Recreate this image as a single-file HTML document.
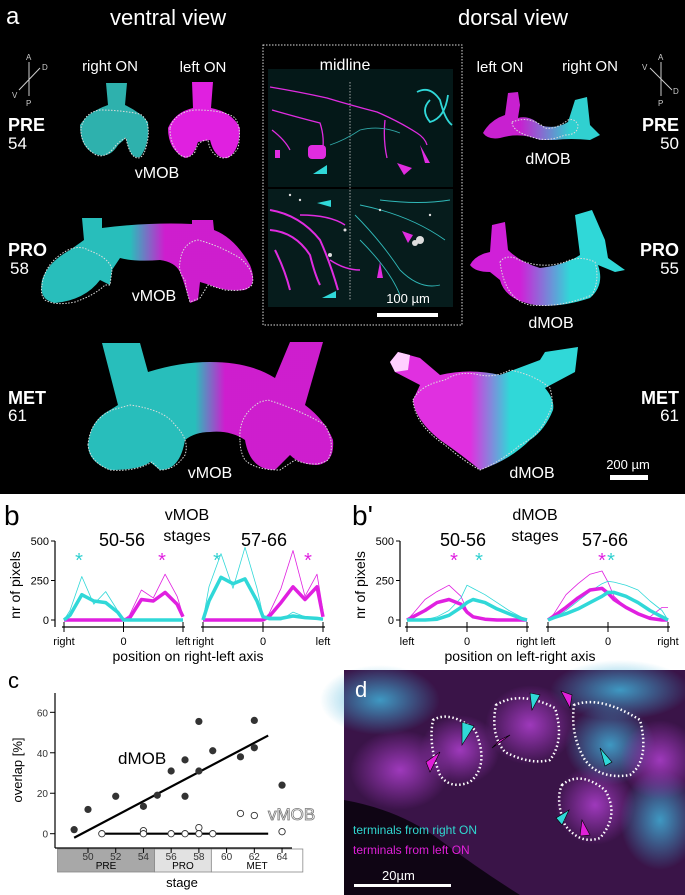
<!DOCTYPE html>
<html><head><meta charset="utf-8"><style>
html,body{margin:0;padding:0;background:#fff}
svg{display:block}
text{font-family:"Liberation Sans",Arial,sans-serif}
</style></head><body>
<svg id="fig" width="685" height="895" viewBox="0 0 685 895" xmlns="http://www.w3.org/2000/svg">
<defs>
<linearGradient id="gcm" gradientUnits="userSpaceOnUse" x1="130" x2="165"><stop offset="0" stop-color="#2ccfcb"/><stop offset="1" stop-color="#e020e0"/></linearGradient>
<linearGradient id="gcm2" gradientUnits="userSpaceOnUse" x1="195" x2="225"><stop offset="0" stop-color="#2ccfcb"/><stop offset="1" stop-color="#e020e0"/></linearGradient>
<linearGradient id="gmcP" gradientUnits="userSpaceOnUse" x1="520" x2="570"><stop offset="0" stop-color="#c820d0"/><stop offset="1" stop-color="#30d0d0"/></linearGradient>
<linearGradient id="gmcPro" gradientUnits="userSpaceOnUse" x1="520" x2="570"><stop offset="0" stop-color="#d020d8"/><stop offset="1" stop-color="#30d8d8"/></linearGradient>
<linearGradient id="gmcE" gradientUnits="userSpaceOnUse" x1="470" x2="510"><stop offset="0" stop-color="#e030e0"/><stop offset="1" stop-color="#30d8d8"/></linearGradient>
<radialGradient id="dblob1" cx="0.5" cy="0.5" r="0.5"><stop offset="0" stop-color="#b040d0"/><stop offset="1" stop-color="#b040d0" stop-opacity="0"/></radialGradient>
<radialGradient id="dblob2" cx="0.5" cy="0.5" r="0.5"><stop offset="0" stop-color="#40b0d8"/><stop offset="1" stop-color="#40b0d8" stop-opacity="0"/></radialGradient>
</defs>

<!-- PANEL A -->
<g>
<rect x="0" y="0" width="685" height="494" fill="#000"/>
<text x="6" y="24" font-size="24" fill="#fff">a</text>
<text x="110" y="25" font-size="22" fill="#fff">ventral view</text>
<text x="458" y="25" font-size="22" fill="#fff">dorsal view</text>
<g fill="#fff" font-size="15" text-anchor="middle">
<text x="110" y="71">right ON</text><text x="203" y="72">left ON</text>
<text x="500" y="72">left ON</text><text x="590" y="71">right ON</text>
</g>
<g fill="#fff">
<text x="8" y="131" font-size="18" font-weight="bold">PRE</text><text x="8" y="149" font-size="17">54</text>
<text x="8" y="256" font-size="18" font-weight="bold">PRO</text><text x="10" y="274" font-size="17">58</text>
<text x="8" y="404" font-size="18" font-weight="bold">MET</text><text x="8" y="421" font-size="17">61</text>
<text x="679" y="131" font-size="18" font-weight="bold" text-anchor="end">PRE</text><text x="679" y="149" font-size="17" text-anchor="end">50</text>
<text x="679" y="256" font-size="18" font-weight="bold" text-anchor="end">PRO</text><text x="679" y="274" font-size="17" text-anchor="end">55</text>
<text x="679" y="404" font-size="18" font-weight="bold" text-anchor="end">MET</text><text x="679" y="421" font-size="17" text-anchor="end">61</text>
</g>
<!-- compasses -->
<g stroke="#ccc" stroke-width="1" fill="#ccc" font-size="8">
<line x1="29" y1="62" x2="29" y2="96"/><line x1="19" y1="90" x2="40" y2="68"/>
<text x="26" y="60" stroke="none">A</text><text x="42" y="70" stroke="none">D</text><text x="12" y="98" stroke="none">V</text><text x="26" y="106" stroke="none">P</text>
<line x1="661" y1="62" x2="661" y2="96"/><line x1="650" y1="68" x2="672" y2="90"/>
<text x="658" y="60" stroke="none">A</text><text x="642" y="70" stroke="none">V</text><text x="673" y="94" stroke="none">D</text><text x="658" y="106" stroke="none">P</text>
</g>
<!-- ventral PRE -->
<path d="M106 83 L127 83 L125 105 Q140 112 148 122 Q150 145 140 157 Q130 160 126 138 L118 145 Q110 158 98 155 Q80 150 80 125 Q88 112 108 105Z" fill="#33c4c0" opacity="0.9"/>
<path d="M192 82 L213 82 L211 108 Q232 112 240 128 Q240 150 228 158 Q215 160 210 140 L198 142 Q193 158 185 158 Q168 150 168 128 Q175 112 193 108Z" fill="#e020e0"/>
<path d="M81 128 Q85 112 100 110 Q120 110 140 114 Q150 120 148 138 Q145 158 138 158 Q130 158 126 138 Q120 140 112 150 Q104 158 96 155 Q80 145 81 128Z" fill="none" stroke="#ddd" stroke-width="1" stroke-dasharray="1.5,1.5"/>
<path d="M170 128 Q175 112 195 110 Q225 110 235 118 Q242 128 238 148 Q232 158 222 158 Q210 155 208 140 Q198 140 195 152 Q188 160 180 155 Q170 145 170 128Z" fill="none" stroke="#ddd" stroke-width="1" stroke-dasharray="1.5,1.5"/>
<text x="157" y="178" font-size="16" fill="#fff" text-anchor="middle">vMOB</text>
<!-- ventral PRO -->
<path d="M82 218 L102 218 L102 228 Q150 222 192 224 L192 220 L213 220 L214 230 Q235 238 250 265 Q258 285 245 290 Q225 292 210 285 L200 282 L198 300 L190 303 Q185 285 180 272 Q175 262 160 260 Q135 262 120 258 L112 270 L110 285 L100 280 Q85 300 55 303 Q38 300 42 280 Q48 262 70 250 L84 240Z" fill="url(#gcm)" opacity="0.92"/>
<path d="M42 285 Q45 262 68 250 Q80 245 88 250 Q110 258 112 270 L110 285 L105 285 Q95 295 75 302 Q55 306 45 300 Q40 295 42 285Z" fill="none" stroke="#ddd" stroke-width="1" stroke-dasharray="1.5,1.5"/>
<path d="M180 262 Q182 243 198 240 Q218 245 240 258 Q256 272 252 285 Q245 292 225 290 L208 285 L200 298 L190 302 Q186 290 185 280 Q178 272 180 262Z" fill="none" stroke="#ddd" stroke-width="1" stroke-dasharray="1.5,1.5"/>
<text x="154" y="301" font-size="16" fill="#fff" text-anchor="middle">vMOB</text>
<!-- ventral MET -->
<path d="M102 343 L140 343 L148 372 Q180 362 210 362 Q250 362 275 378 L290 342 L323 342 L305 405 Q325 420 333 440 Q335 462 318 465 Q300 465 290 455 L275 470 Q250 470 245 440 Q230 430 210 432 Q195 432 185 440 Q180 470 160 470 L150 462 Q140 470 110 470 Q88 462 88 445 Q90 420 110 410 L118 405Z" fill="url(#gcm2)" opacity="0.92"/>
<path d="M88 445 Q90 420 112 410 L130 405 Q165 410 175 425 Q190 440 185 455 Q175 470 160 470 L152 462 Q135 472 110 470 Q90 462 88 445Z" fill="none" stroke="#ddd" stroke-width="1" stroke-dasharray="1.5,1.5"/>
<path d="M240 440 Q238 415 260 402 L268 400 Q300 410 325 425 Q336 445 328 460 Q315 468 295 460 L280 470 Q255 470 245 460 Q240 452 240 440Z" fill="none" stroke="#ddd" stroke-width="1" stroke-dasharray="1.5,1.5"/>
<text x="210" y="478" font-size="16" fill="#fff" text-anchor="middle">vMOB</text>
<!-- midline box -->
<g>
<rect x="263" y="45" width="199" height="280" fill="none" stroke="#ddd" stroke-width="1" stroke-dasharray="1.5,1.5"/>
<rect x="268" y="69" width="185" height="118" fill="#041818"/>
<rect x="268" y="189" width="185" height="118" fill="#061c1c"/>
<line x1="350" y1="82" x2="350" y2="300" stroke="#ccc" stroke-width="0.8" stroke-dasharray="1.5,1.5"/>
<g fill="none" stroke-width="1.3">
<path d="M270 87 Q300 92 327 98 Q350 105 377 112 Q400 122 417 133 Q425 138 427 145" stroke="#e02ce0"/>
<path d="M272 110 Q300 118 320 123 Q324 135 323 147" stroke="#e02ce0"/>
<path d="M272 130 Q285 140 290 150" stroke="#e02ce0"/>
<path d="M385 120 Q383 140 387 158" stroke="#e02ce0"/>
<path d="M417 92 Q430 85 440 100 Q445 120 452 125 M430 100 Q420 110 430 122 Q445 118 448 95" stroke="#30d8d8" stroke-width="1.8"/>
<path d="M330 145 Q345 140 360 130 Q380 125 400 133" stroke="#30a8a8" stroke-width="0.8"/>
<path d="M270 210 Q300 215 320 240 Q330 262 338 290" stroke="#e02ce0" stroke-width="2"/>
<path d="M270 230 Q295 232 310 255 Q315 275 320 285" stroke="#e02ce0" stroke-width="2"/>
<path d="M275 250 Q285 270 290 290" stroke="#e02ce0" stroke-width="2"/>
<path d="M300 215 Q330 215 345 225 M330 260 Q345 270 360 270" stroke="#e02ce0" stroke-width="1.5"/>
<path d="M355 215 Q380 240 400 270 Q420 290 440 285 M360 240 Q390 270 400 295 M380 200 Q420 205 450 200 M360 205 Q410 215 445 240" stroke="#30b8b8" stroke-width="0.9"/>
</g>
<g fill="#e02ce0"><rect x="308" y="145" width="18" height="14" rx="4"/><rect x="275" y="150" width="5" height="8"/></g>
<g fill="#ddd"><circle cx="420" cy="240" r="4"/><circle cx="415" cy="243" r="3"/><circle cx="330" cy="255" r="2"/><circle cx="300" cy="200" r="1.2"/><circle cx="380" cy="210" r="1.2"/><circle cx="430" cy="215" r="1.2"/><circle cx="290" cy="195" r="1.2"/><circle cx="345" cy="230" r="1.5"/></g>
<polygon points="420,145 425,163 430,163" fill="#e02ce0"/><polygon points="397,163 404,175 412,168" fill="#e02ce0"/>
<polygon points="313,174 327,165 327,174" fill="#30d8d8"/><polygon points="317,203 331,200 331,207" fill="#30d8d8"/>
<polygon points="322,298 336,291 336,298" fill="#30d8d8"/><polygon points="402,231 413,235 408,243" fill="#e02ce0"/>
<polygon points="380,262 377,278 383,278" fill="#e02ce0"/>
<text x="345" y="70" font-size="16" fill="#fff" text-anchor="middle">midline</text>
<text x="408" y="303" font-size="13" fill="#fff" text-anchor="middle">100 µm</text>
<rect x="377" y="313" width="61" height="4" fill="#fff"/>
</g>
<!-- dorsal PRE -->
<path d="M483 133 Q490 120 505 115 L508 93 L518 92 L520 105 L518 118 Q530 115 540 125 Q555 130 568 122 L575 100 L587 97 L590 125 L600 135 L590 140 Q570 138 555 140 L540 140 Q520 132 500 138 Q488 140 483 133Z" fill="url(#gmcP)"/>
<path d="M512 122 Q530 115 545 128 Q555 130 568 120 Q575 118 578 125 Q578 135 565 135 Q548 142 535 138 Q512 132 512 122Z" fill="none" stroke="#ddd" stroke-width="1" stroke-dasharray="1.5,1.5"/>
<text x="548" y="164" font-size="16" fill="#fff" text-anchor="middle">dMOB</text>
<!-- dorsal PRO -->
<path d="M470 265 Q475 255 490 252 L492 225 L505 222 L508 250 Q520 262 540 268 Q565 265 580 255 L575 215 L592 210 L605 240 L608 258 L625 270 L615 272 L598 265 Q605 285 590 298 Q560 308 535 305 Q505 300 500 280 L490 272 Q475 272 470 265Z" fill="url(#gmcPro)"/>
<path d="M500 262 Q505 255 515 258 Q540 270 565 262 Q580 255 595 262 Q600 280 592 295 Q560 308 530 305 Q505 300 500 262Z" fill="none" stroke="#ddd" stroke-width="1" stroke-dasharray="1.5,1.5"/>
<text x="551" y="328" font-size="16" fill="#fff" text-anchor="middle">dMOB</text>
<!-- dorsal MET -->
<path d="M390 362 L398 352 L420 358 L440 375 Q470 368 500 375 L540 360 L545 352 L578 347 L575 372 L545 388 Q555 400 553 410 Q545 430 530 440 Q510 460 480 470 Q462 455 440 440 Q415 420 413 400 L420 385 L395 372Z" fill="url(#gmcE)"/>
<path d="M390 362 L398 352 L410 355 L408 370 L395 372Z" fill="#ffd0ff"/>
<path d="M413 400 Q420 385 445 380 Q460 370 480 375 Q495 378 510 370 Q535 375 550 388 Q555 405 548 415 Q540 435 520 445 Q500 462 480 470 Q465 462 445 445 Q415 425 413 400Z" fill="none" stroke="#ddd" stroke-width="1" stroke-dasharray="1.5,1.5"/>
<text x="532" y="478" font-size="16" fill="#fff" text-anchor="middle">dMOB</text>
<text x="628" y="469" font-size="13" fill="#fff" text-anchor="middle">200 µm</text>
<rect x="610" y="475" width="38" height="5" fill="#fff"/>
</g>

<!-- PANEL B / B' -->
<g id="panelB">
<text x="4" y="525" font-size="28" fill="#000">b</text>
<text x="352" y="525" font-size="28" fill="#000">b'</text>
<text x="187" y="520" font-size="16" text-anchor="middle">vMOB</text>
<text x="187" y="541" font-size="16" text-anchor="middle">stages</text>
<text x="122" y="546" font-size="18" text-anchor="middle">50-56</text>
<text x="264" y="546" font-size="18" text-anchor="middle">57-66</text>
<text x="535" y="520" font-size="16" text-anchor="middle">dMOB</text>
<text x="535" y="541" font-size="16" text-anchor="middle">stages</text>
<text x="463" y="546" font-size="18" text-anchor="middle">50-56</text>
<text x="605" y="546" font-size="18" text-anchor="middle">57-66</text>
<text x="188" y="661" font-size="14" text-anchor="middle">position on right-left axis</text>
<text x="520" y="661" font-size="14" text-anchor="middle">position on left-right axis</text>
</g>

<!-- PANEL C -->
<g id="panelC">
<text x="8" y="688" font-size="22" fill="#000">c</text>
<text x="22" y="770" font-size="13" text-anchor="middle" transform="rotate(-90 22 770)">overlap [%]</text>
<text x="182" y="887" font-size="13" text-anchor="middle">stage</text>
</g>

<!-- PANEL D -->
<g>
<rect x="344" y="670" width="341" height="225" fill="#3a1448"/>
<g opacity="0.85">
<ellipse cx="380" cy="700" rx="60" ry="35" fill="url(#dblob2)"/>
<ellipse cx="620" cy="690" rx="70" ry="30" fill="url(#dblob2)"/>
<ellipse cx="460" cy="750" rx="40" ry="35" fill="url(#dblob1)"/>
<ellipse cx="530" cy="725" rx="45" ry="40" fill="url(#dblob1)"/>
<ellipse cx="610" cy="745" rx="45" ry="40" fill="url(#dblob2)"/>
<ellipse cx="595" cy="805" rx="40" ry="40" fill="url(#dblob1)"/>
<ellipse cx="660" cy="820" rx="40" ry="50" fill="url(#dblob2)"/>
<ellipse cx="400" cy="770" rx="50" ry="40" fill="url(#dblob1)"/>
<ellipse cx="660" cy="760" rx="40" ry="40" fill="url(#dblob1)"/>
</g>
<path d="M344 800 Q400 810 440 840 Q480 870 520 895 L344 895Z" fill="#08020c" opacity="0.85"/>
<g fill="none" stroke="#fff" stroke-width="2.5" stroke-dasharray="1.5,2.5">
<path d="M433 720 Q450 710 475 730 Q490 765 470 782 Q450 790 440 775 Q428 745 433 720Z"/>
<path d="M496 705 Q520 690 555 708 Q565 740 550 760 Q530 765 505 752 Q490 735 496 705Z"/>
<path d="M574 705 Q600 695 640 720 Q650 760 630 775 Q600 780 585 760 Q570 735 574 705Z"/>
<path d="M562 785 Q580 770 605 790 Q620 815 600 838 Q580 845 565 825 Q555 800 562 785Z"/>
</g>
<g>
<polygon points="462,722 474,726 462,745" fill="#30d8d8" stroke="#000" stroke-width="0.6"/>
<polygon points="426,762 440,752 430,772" fill="#e020d8" stroke="#000" stroke-width="0.6"/>
<polygon points="530,693 540,695 532,710" fill="#30d8d8" stroke="#000" stroke-width="0.6"/>
<polygon points="500,740 510,735 492,748" fill="#e020d8" stroke="#000" stroke-width="0.6"/>
<polygon points="561,691 572,695 570,708" fill="#e020d8" stroke="#000" stroke-width="0.6"/>
<polygon points="600,748 612,762 605,766" fill="#30d8d8" stroke="#000" stroke-width="0.6"/>
<polygon points="556,818 569,810 562,825" fill="#30d8d8" stroke="#000" stroke-width="0.6"/>
<polygon points="582,820 590,835 580,836" fill="#e020d8" stroke="#000" stroke-width="0.6"/>
</g>
<text x="355" y="697" font-size="22" fill="#fff">d</text>
<text x="353" y="834" font-size="12" fill="#30d8d0">terminals from right ON</text>
<text x="353" y="854" font-size="12" fill="#e020d8">terminals from left ON</text>
<text x="382" y="880" font-size="13" fill="#fff">20µm</text>
<rect x="354" y="884" width="97" height="3" fill="#fff"/>
</g>
</svg>
<script>
// ---- Panel b data (values in pixels count, x positions 0..1 across each subplot) ----
const profPos = [0,0.05,0.15,0.25,0.35,0.45,0.5,0.55,0.65,0.75,0.85,0.95,1];
const vEarlyCyanMean = [0,30,160,120,110,50,0,0,0,0,0,0,0];
const vEarlyMagMean  = [0,0,0,0,0,0,0,10,130,120,175,100,20];
const vLateCyanMean  = [0,120,270,230,260,120,20,10,10,25,15,10,5];
const vLateMagMean   = [0,0,0,0,0,0,0,20,110,210,130,210,20];
const vEarlyCyanThin = [0,60,275,100,180,60,0,0,0,0,0,0,0];
const vEarlyMagThin  = [0,0,0,0,0,0,0,30,190,140,290,150,30];
const vLateCyanThin  = [0,210,420,200,460,200,30,0,0,50,20,10,0];
const vLateMagThin   = [0,0,0,0,0,0,0,40,200,440,150,290,60];
const dEarlyMagMean  = [0,20,60,110,130,100,50,20,5,0,0,0,0];
const dEarlyCyanMean = [0,0,0,5,30,80,110,130,110,70,40,10,0];
const dLateMagMean   = [0,25,80,140,190,200,170,130,80,40,10,0,0];
const dLateCyanMean  = [0,15,40,70,110,150,175,175,150,110,60,20,0];
const dEarlyMagThin  = [0,40,130,180,220,150,60,20,0,0,0,0,0];
const dEarlyCyanThin = [0,0,0,20,60,140,220,200,160,110,60,20,0];
const dLateMagThin   = [0,40,160,230,290,310,240,150,80,40,20,80,80];
const dLateCyanThin  = [0,10,60,120,180,230,245,240,220,190,120,60,0];
const yTicks = [0,250,500];
const vXLabels = ["right","0","left"];
const dXLabels = ["left","0","right"];
// ---- Panel c data ----
const dStage = [49,50,52,54,55,56,57,57,58,58,59,61,62,62,64];
const dOverlap = [2,12,18.5,13.5,19,31,36.5,18.5,55.5,31,41,38,56,42.5,24];
const vStage = [51,54,54,56,57,58,58,59,61,62,64];
const vOverlap = [0,1.5,0,0,0,3,0,0,10,9,1];
const dFit = [[49,-2],[63,48.5]];
const vFit = [[51,0],[63,0]];
const cXTicks = [50,52,54,56,58,60,62,64];
const cYTicks = [0,20,40,60];
const stageBands = [["PRE",47.8,54.8,"#a8a8a8"],["PRO",54.8,58.9,"#e2e2e2"],["MET",58.9,65.5,"#fff"]];

const NS="http://www.w3.org/2000/svg";
function mk(tag,attrs,parent){const e=document.createElementNS(NS,tag);for(const k in attrs)e.setAttribute(k,attrs[k]);parent.appendChild(e);return e;}
const B=document.getElementById('panelB');
const CY="#30d8d8", MG="#e020e0";
const yB=v=>620-v*(79/500);
function subplot(x0,x1,series,labels){
  const xs=p=>x0+p*(x1-x0);
  series.forEach(s=>{
    const d=s.vals.map((v,i)=>(i?'L':'M')+xs(profPos[i]).toFixed(1)+' '+yB(v).toFixed(1)).join(' ');
    const p=mk('path',{d:d,fill:'none',stroke:s.c,'stroke-width':s.w,'stroke-linejoin':'round'},B);
    
    
  });
  mk('line',{x1:x0-2,x2:x1+2,y1:627,y2:627,stroke:'#000','stroke-width':1.2},B);
  [0,0.5,1].forEach((p,i)=>{
    mk('line',{x1:xs(p),x2:xs(p),y1:622,y2:632,stroke:'#000'},B);
    const t=mk('text',{x:xs(p),y:645,'font-size':11,'text-anchor':'middle'},B);t.textContent=labels[i];
  });
}
function yaxis(x){
  mk('line',{x1:x,x2:x,y1:541,y2:627,stroke:'#000','stroke-width':1.2},B);
  yTicks.forEach(v=>{mk('line',{x1:x-4,x2:x,y1:yB(v),y2:yB(v),stroke:'#000'},B);
    const t=mk('text',{x:x-6,y:yB(v)+4,'font-size':11,'text-anchor':'end'},B);t.textContent=v;});
  const t=mk('text',{x:x-35,y:585,'font-size':14,'text-anchor':'middle',transform:`rotate(-90 ${x-35} 585)`},B);t.textContent='nr of pixels';
}
yaxis(55); yaxis(400);
subplot(64,183,[{vals:vEarlyCyanThin,c:CY,w:0.8,name:'v-early-cyan-trace'},{vals:vEarlyMagThin,c:MG,w:0.8,name:'v-early-magenta-trace'},{vals:vEarlyMagMean,c:MG,w:3.5,name:'v-early-magenta-mean'},{vals:vEarlyCyanMean,c:CY,w:3.5,name:'v-early-cyan-mean'}],vXLabels);
subplot(203,323,[{vals:vLateCyanThin,c:CY,w:0.8,name:'v-late-cyan-trace'},{vals:vLateMagThin,c:MG,w:0.8,name:'v-late-magenta-trace'},{vals:vLateMagMean,c:MG,w:3.5,name:'v-late-magenta-mean'},{vals:vLateCyanMean,c:CY,w:3.5,name:'v-late-cyan-mean'}],vXLabels);
subplot(407,527,[{vals:dEarlyMagThin,c:MG,w:0.8,name:'d-early-magenta-trace'},{vals:dEarlyCyanThin,c:CY,w:0.8,name:'d-early-cyan-trace'},{vals:dEarlyMagMean,c:MG,w:3.5,name:'d-early-magenta-mean'},{vals:dEarlyCyanMean,c:CY,w:3.5,name:'d-early-cyan-mean'}],dXLabels);
subplot(548,668,[{vals:dLateMagThin,c:MG,w:0.8,name:'d-late-magenta-trace'},{vals:dLateCyanThin,c:CY,w:0.8,name:'d-late-cyan-trace'},{vals:dLateMagMean,c:MG,w:3.5,name:'d-late-magenta-mean'},{vals:dLateCyanMean,c:CY,w:3.5,name:'d-late-cyan-mean'}],dXLabels);
[[79,'#30d0d0'],[162,MG],[217,'#30d0d0'],[308,MG],[454,MG],[479,'#30d0d0'],[602,MG],[611,'#30d0d0']].forEach(a=>{
  const t=mk('text',{x:a[0],y:567,'font-size':20,fill:a[1],'text-anchor':'middle'},B);t.textContent='*';
});

// Panel C
const C=document.getElementById('panelC');
const xC=s=>88+(s-50)*13.86, yC=v=>833.7-v*2.023;
stageBands.forEach(b=>{
  const r=mk('rect',{x:xC(b[1]),y:849,width:xC(b[2])-xC(b[1]),height:23,fill:b[3],stroke:'#888','stroke-width':0.8},C);
  
  
  const t=mk('text',{x:(xC(b[1])+xC(b[2]))/2,y:869,'font-size':10,'text-anchor':'middle'},C);t.textContent=b[0];
});
mk('line',{x1:55,x2:55,y1:693,y2:848,stroke:'#000','stroke-width':1.2},C);
mk('line',{x1:55,x2:292,y1:848,y2:848,stroke:'#000','stroke-width':1.2},C);
cYTicks.forEach(v=>{mk('line',{x1:50,x2:55,y1:yC(v),y2:yC(v),stroke:'#000'},C);
  const t=mk('text',{x:48,y:yC(v)+4,'font-size':10,'text-anchor':'end',fill:'#333'},C);t.textContent=v;});
cXTicks.forEach(s=>{mk('line',{x1:xC(s),x2:xC(s),y1:848,y2:853,stroke:'#000'},C);
  const t=mk('text',{x:xC(s),y:860,'font-size':10,'text-anchor':'middle',fill:'#333'},C);t.textContent=s;});
const fl=mk('line',{x1:xC(dFit[0][0]),y1:yC(dFit[0][1]),x2:xC(dFit[1][0]),y2:yC(dFit[1][1]),stroke:'#000','stroke-width':2.2},C);


const vl=mk('line',{x1:xC(vFit[0][0]),y1:yC(vFit[0][1]),x2:xC(vFit[1][0]),y2:yC(vFit[1][1]),stroke:'#000','stroke-width':2.2},C);


dStage.forEach((s,i)=>{const c=mk('circle',{cx:xC(s),cy:yC(dOverlap[i]),r:3.6,fill:'#333'},C);
  
  });
vStage.forEach((s,i)=>{const c=mk('circle',{cx:xC(s),cy:yC(vOverlap[i]),r:3.2,fill:'#fff',stroke:'#333','stroke-width':0.9},C);
  
  });
let t=mk('text',{x:118,y:764,'font-size':17},C);t.textContent='dMOB';
t=mk('text',{x:268,y:820,'font-size':17,fill:'#fff',stroke:'#777','stroke-width':0.8},C);t.textContent='vMOB';
</script>
</body></html>
